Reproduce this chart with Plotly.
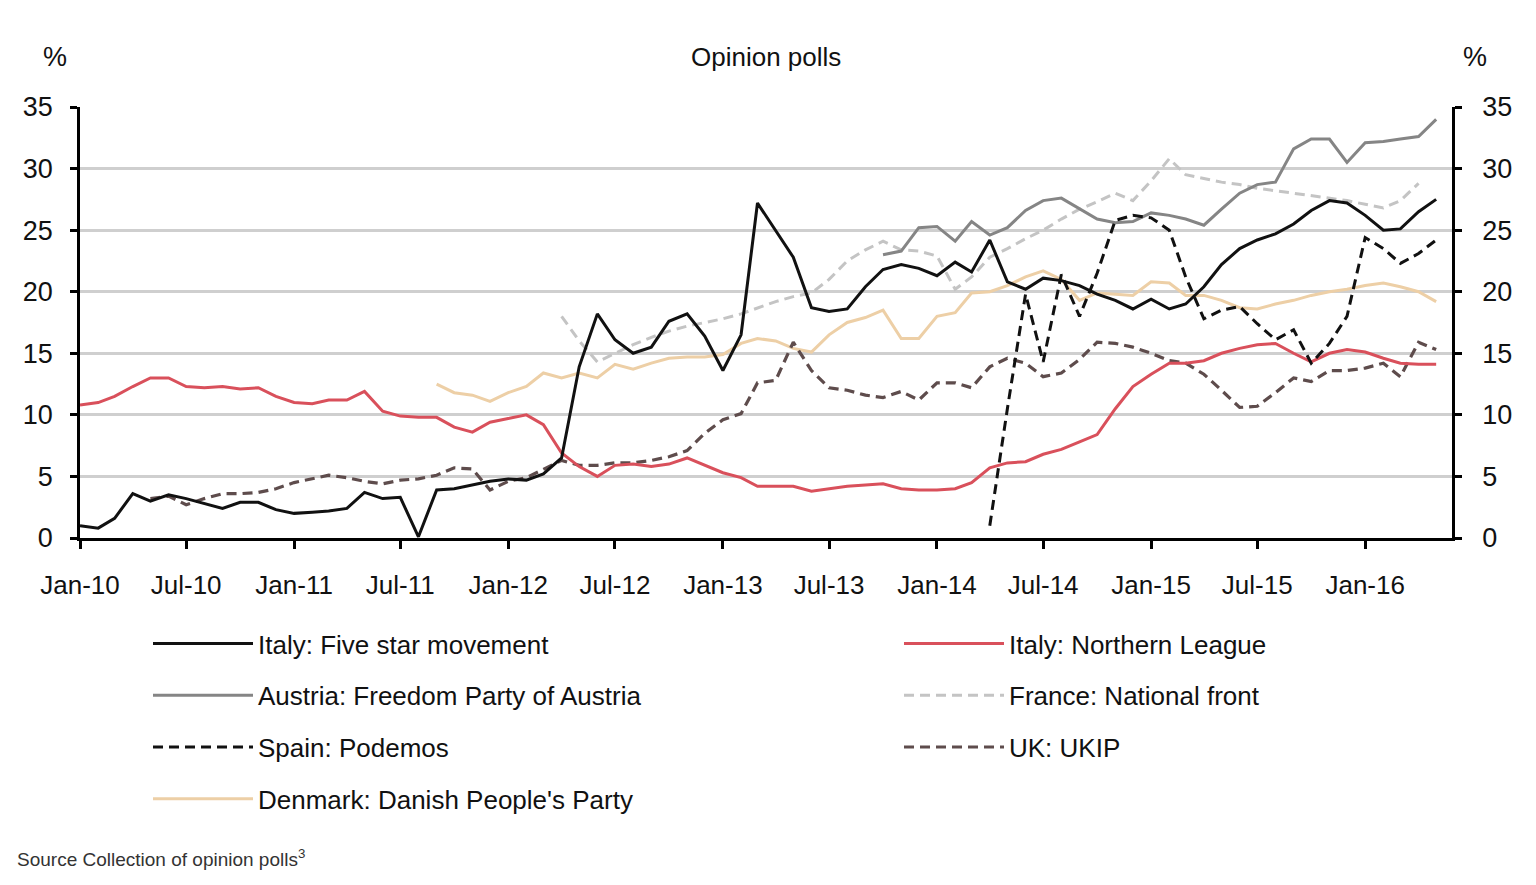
import pandas as pd
import plotly.graph_objects as go

months = pd.date_range("2010-01-01", periods=77, freq="MS")
N = None

five_star = [1.0,0.8,1.6,3.6,3.0,3.5,3.2,2.8,2.4,2.9,
             2.9,2.3,2.0,2.1,2.2,2.4,3.7,3.2,3.3,0.1,
             3.9,4.0,4.3,4.6,4.8,4.7,5.2,6.5,13.9,18.2,
             16.1,15.0,15.5,17.6,18.2,16.4,13.6,16.5,27.2,25.0,
             22.8,18.7,18.4,18.6,20.4,21.8,22.2,21.9,21.3,22.4,
             21.6,24.2,20.8,20.2,21.1,20.9,20.5,19.8,19.3,18.6,
             19.4,18.6,19.0,20.4,22.2,23.5,24.2,24.7,25.5,26.6,
             27.4,27.2,26.2,25.0,25.1,26.5,27.5]

northern_league = [10.8,11.0,11.5,12.3,13.0,13.0,12.3,12.2,12.3,12.1,
                   12.2,11.5,11.0,10.9,11.2,11.2,11.9,10.3,9.9,9.8,
                   9.8,9.0,8.6,9.4,9.7,10.0,9.2,6.9,5.8,5.0,
                   5.9,6.0,5.8,6.0,6.5,5.9,5.3,4.9,4.2,4.2,
                   4.2,3.8,4.0,4.2,4.3,4.4,4.0,3.9,3.9,4.0,
                   4.5,5.7,6.1,6.2,6.8,7.2,7.8,8.4,10.5,12.3,
                   13.3,14.2,14.2,14.4,15.0,15.4,15.7,15.8,15.0,14.3,
                   15.0,15.3,15.1,14.6,14.2,14.1,14.1]

ukip = [N,N,N,N,3.2,3.4,2.7,3.2,3.6,3.6,
        3.7,4.0,4.5,4.8,5.1,4.9,4.6,4.4,4.7,4.8,
        5.1,5.7,5.6,3.9,4.6,4.9,5.6,6.3,5.9,5.9,
        6.1,6.1,6.3,6.6,7.1,8.5,9.6,10.1,12.6,12.8,
        15.9,13.6,12.2,12.0,11.6,11.4,11.9,11.2,12.6,12.6,
        12.2,13.9,14.6,14.2,13.1,13.4,14.5,15.9,15.8,15.5,
        15.0,14.4,14.2,13.3,12.0,10.6,10.7,11.8,13.0,12.7,
        13.6,13.6,13.8,14.2,13.1,15.9,15.3]

danish = [N]*20 + [12.5,11.8,11.6,11.1,11.8,12.3,13.4,13.0,13.4,13.0,
                   14.1,13.7,14.2,14.6,14.7,14.7,14.9,15.8,16.2,16.0,
                   15.4,15.1,16.5,17.5,17.9,18.5,16.2,16.2,18.0,18.3,
                   19.9,20.0,20.5,21.2,21.7,21.0,19.3,19.9,19.8,19.7,
                   20.8,20.7,19.7,19.7,19.3,18.7,18.6,19.0,19.3,19.7,
                   20.0,20.2,20.5,20.7,20.4,20.0,19.2]

france = [N]*27 + [18.0,16.0,14.3,
                   15.0,15.7,16.3,16.8,17.2,17.5,17.8,18.2,18.7,19.2,
                   19.6,19.9,21.0,22.5,23.4,24.1,23.4,23.3,22.9,20.2,
                   21.2,22.8,23.5,24.3,25.0,25.9,26.7,27.3,28.0,27.4,
                   29.0,30.8,29.5,29.2,28.9,28.7,28.4,28.2,28.0,27.8,
                   27.6,27.4,27.1,26.8,27.4,28.8,N]

austria = [N]*45 + [23.0,23.3,25.2,25.3,24.1,
                    25.7,24.6,25.2,26.6,27.4,27.6,26.7,25.9,25.6,25.7,
                    26.4,26.2,25.9,25.4,26.7,28.0,28.7,28.9,31.6,32.4,
                    32.4,30.5,32.1,32.2,32.4,32.6,34.0]

podemos = [N]*51 + [1.0,10.5,19.8,14.3,21.4,18.0,21.5,25.8,26.2,
                    26.0,25.0,21.2,17.8,18.5,18.8,17.4,16.1,16.9,14.2,
                    15.8,18.0,24.4,23.5,22.3,23.1,24.2]

FONT = "Liberation Sans, Arial, sans-serif"

series = [
    ("Denmark: Danish People's Party", danish, "#EDCFA6", "solid", 3, "legend", "y"),
    ("France: National front", france, "#C4C4C4", "10px,6px", 3, "legend2", "y"),
    ("Austria: Freedom Party of Austria", austria, "#858585", "solid", 3, "legend", "y"),
    ("UK: UKIP", ukip, "#5E4C4C", "10px,6px", 3.2, "legend2", "y"),
    ("Italy: Northern League", northern_league, "#D9505B", "solid", 3, "legend2", "y"),
    ("Spain: Podemos", podemos, "#111111", "10px,6px", 3, "legend", "y"),
    ("Italy: Five star movement", five_star, "#111111", "solid", 3, "legend", "y2"),
]
rank = {"Italy: Five star movement": 1, "Austria: Freedom Party of Austria": 2,
        "Spain: Podemos": 3, "Denmark: Danish People's Party": 4,
        "Italy: Northern League": 1, "France: National front": 2, "UK: UKIP": 3}

fig = go.Figure()
for name, vals, color, dash, w, leg, yax in series:
    fig.add_trace(go.Scatter(
        x=months, y=vals, name=name, mode="lines", yaxis=yax,
        line=dict(color=color, width=w, dash=dash),
        legend=leg, legendrank=rank[name], legendgroup=name,
        connectgaps=False, hoverinfo="skip"))

# page has an 8px body margin: plot area on page = x 80..1452, y 107..538
W, H = 1520, 869
L, T = 72, 99
PW, PH = 1372, 431
yfont = dict(family=FONT, size=27, color="#111111")


def px(xp):
    return (xp - 80) / PW


def py(yp):
    return (538 - yp) / PH


fig.update_layout(
    width=W, height=H,
    margin=dict(l=L, r=W - L - PW, t=T, b=H - T - PH, pad=0),
    paper_bgcolor="white", plot_bgcolor="white",
    showlegend=True,
    xaxis=dict(type="date", range=["2010-01-01", "2016-05-28"],
               tick0="2010-01-01", dtick="M6", tickformat="%b-%y",
               ticks="outside", ticklen=8, tickwidth=2.5, tickcolor="black",
               showline=True, linecolor="black", linewidth=2.5,
               showgrid=False, zeroline=False,
               tickfont=dict(family=FONT, size=26, color="#111111"),
               ticklabelstandoff=14),
    yaxis=dict(range=[0, 35], dtick=5, ticks="outside", ticklen=7, tickwidth=2.5,
               tickcolor="black", showline=True, linecolor="black", linewidth=2.5,
               showgrid=True, gridcolor="#CFCFCF", gridwidth=3, zeroline=False,
               tickfont=yfont, ticklabelstandoff=12),
    yaxis2=dict(range=[0, 35], dtick=5, overlaying="y", side="right", anchor="x",
                ticks="outside", ticklen=7, tickwidth=2.5, tickcolor="black",
                showline=True, linecolor="black", linewidth=2.5, showgrid=False,
                zeroline=False, tickfont=yfont, ticklabelstandoff=15),
    legend=dict(x=px(148), y=py(620), xanchor="left", yanchor="top",
                font=dict(family=FONT, size=26, color="#111111"), itemwidth=100,
                traceorder="grouped", tracegroupgap=15, bgcolor="rgba(0,0,0,0)"),
    legend2=dict(x=px(899), y=py(620), xanchor="left", yanchor="top",
                 font=dict(family=FONT, size=26, color="#111111"), itemwidth=100,
                 traceorder="grouped", tracegroupgap=15, bgcolor="rgba(0,0,0,0)"),
    annotations=[
        dict(text="Opinion polls", x=px(766), y=py(57), xref="paper", yref="paper",
             xanchor="center", yanchor="middle",
             showarrow=False, font=dict(family=FONT, size=26, color="#111111")),
        dict(text="%", x=px(55), y=py(57), xref="paper", yref="paper",
             xanchor="center", yanchor="middle",
             showarrow=False, font=dict(family=FONT, size=27, color="#111111")),
        dict(text="%", x=px(1475), y=py(57), xref="paper", yref="paper",
             xanchor="center", yanchor="middle",
             showarrow=False, font=dict(family=FONT, size=27, color="#111111")),
        dict(text="Source Collection of opinion polls<sup>3</sup>", x=px(15),
             y=py(858), xref="paper", yref="paper", xanchor="left", yanchor="middle",
             showarrow=False, font=dict(family=FONT, size=19, color="#333333")),
    ],
)

fig.write_html("out.html")
